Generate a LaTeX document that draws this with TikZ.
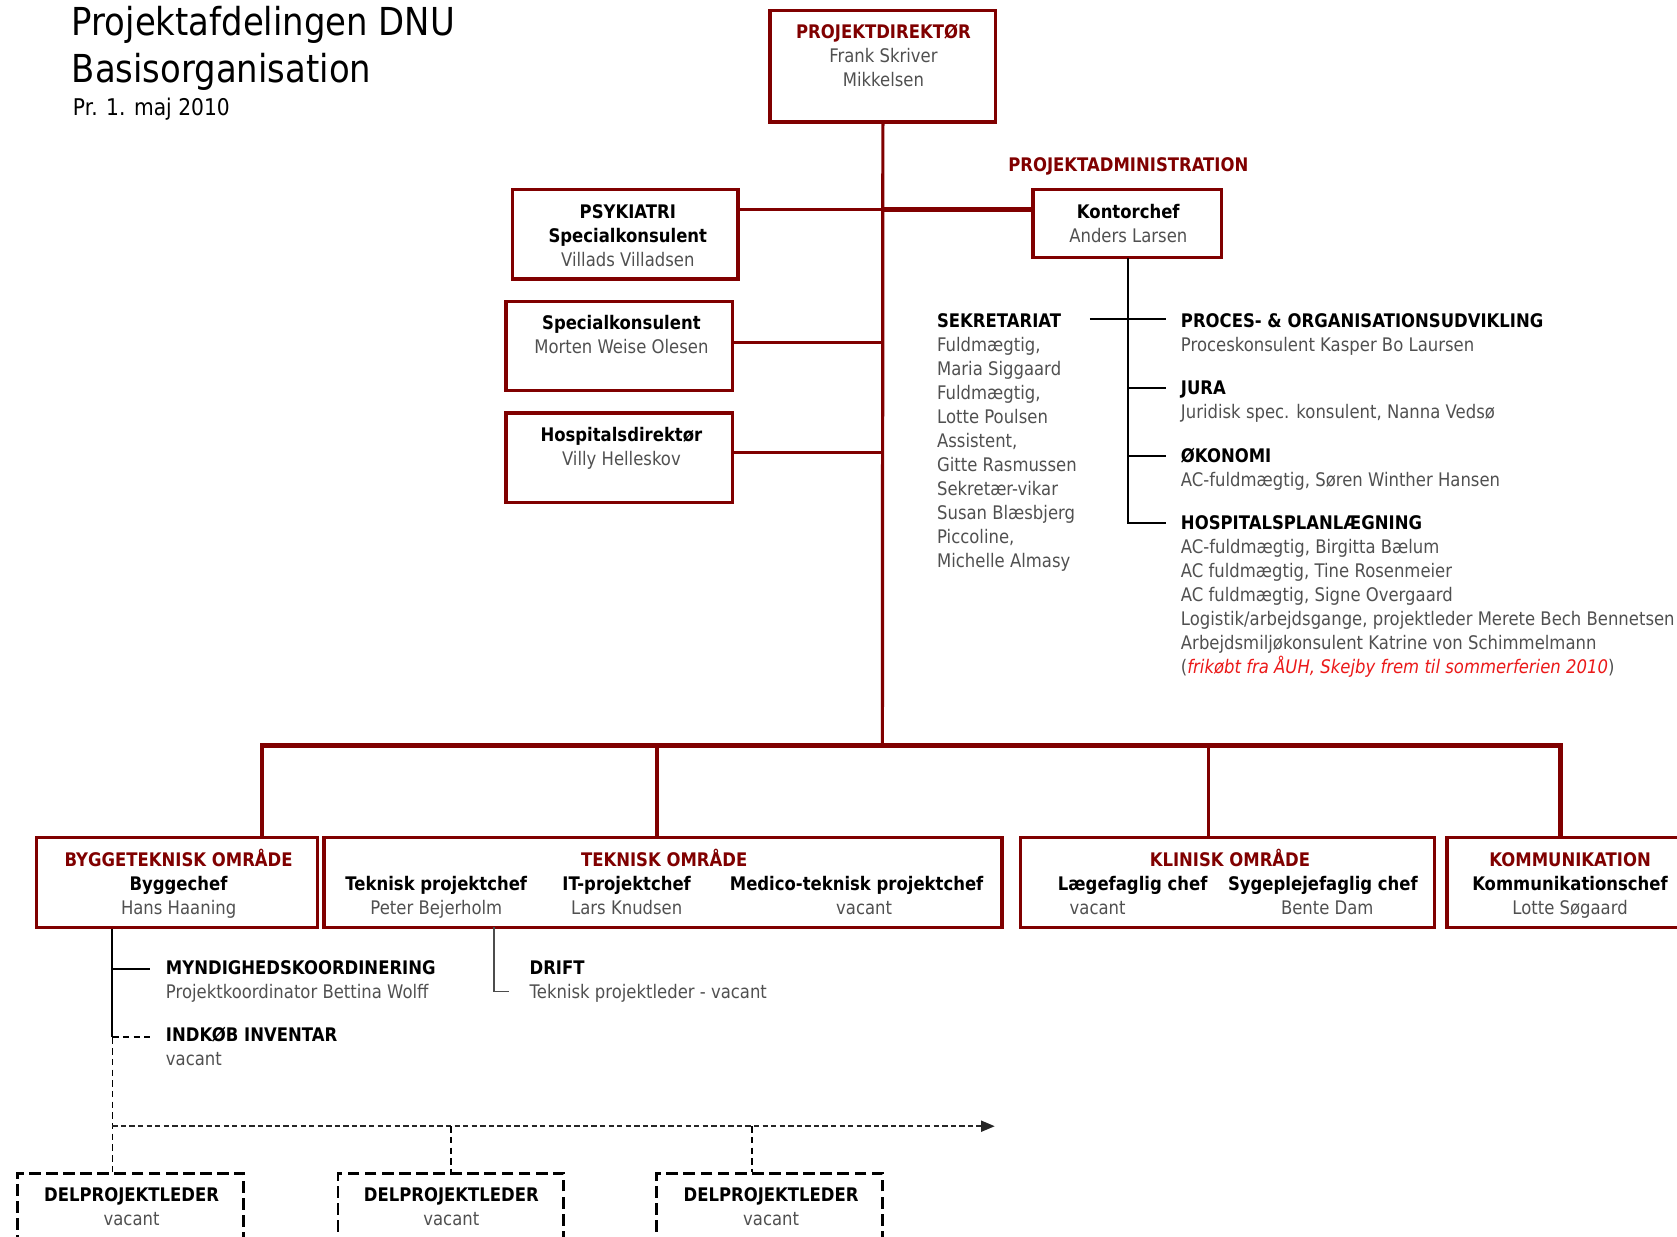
\documentclass[tikz,border=0pt]{standalone}
\usepackage{fontspec}
\setmainfont[FakeStretch=0.88]{DejaVu Sans}
\usetikzlibrary{arrows}
\definecolor{dred}{RGB}{128,0,0}
\definecolor{namegray}{RGB}{80,80,80}
\definecolor{notered}{RGB}{235,25,25}
\newcommand{\rd}[1]{\textcolor{dred}{\bfseries #1}}
\newcommand{\nm}[1]{\textcolor{namegray}{#1}}

\begin{document}
\begin{tikzpicture}[x=1pt,y=-1pt]
            \tikzset{box/.style = {draw=dred, line width=3.2pt, inner sep=0pt}}
            \tikzset{dbox/.style = {draw=black, line width=2.6pt, dash pattern=on 11pt off 5pt, inner sep=0pt}}
            \tikzset{txt/.style = {inner sep=0pt, anchor=base, align=center, yshift=-2pt, font=\fontsize{17.5}{22.5}\selectfont}}
            \tikzset{ltxt/.style = {txt, anchor=base west, align=left}}
            \tikzset{redline/.style = {draw=dred, line width=3pt}}
            \tikzset{blkline/.style = {draw=black, line width=1.8pt}}
            \tikzset{dline/.style = {draw=black, line width=1.4pt, dash pattern=on 6pt off 4pt}}
            \useasboundingbox (0,0) rectangle (1568,1156);
            % title
            \node[anchor=base west, inner sep=0pt, font=\fontsize{36}{44}\selectfont] (title) at (67,33) {Projektafdelingen DNU};
            \node[anchor=base west, inner sep=0pt, font=\fontsize{36}{44}\selectfont] (subtitle) at (67,77) {Basisorganisation};
            \node[anchor=base west, inner sep=0pt, font=\fontsize{21.5}{24}\selectfont] (date) at (68,108) {Pr. 1. maj 2010};
            % boxes
            \node[box, minimum width=211pt, minimum height=104pt] (dir) at (825.5,62) {};
            \node[box, minimum width=176pt, minimum height=64pt] (kon) at (1054,209) {};
            \node[box, minimum width=211pt, minimum height=84pt] (psy) at (584.5,219) {};
            \node[box, minimum width=212pt, minimum height=83pt] (spec) at (579,323.5) {};
            \node[box, minimum width=212pt, minimum height=84pt] (hosp) at (579,428) {};
            \node[box, minimum width=263pt, minimum height=84pt] (bygg) at (165.5,825) {};
            \node[box, minimum width=634pt, minimum height=84pt] (tek) at (620,825) {};
            \node[box, minimum width=387pt, minimum height=84pt] (klin) at (1147.5,825) {};
            \node[box, minimum width=240pt, minimum height=84pt] (komm) at (1473,825) {};
            \node[dbox, minimum width=212pt, minimum height=94pt] (del1) at (122,1144) {};
            \node[dbox, minimum width=211pt, minimum height=94pt] (del2) at (421.5,1144) {};
            \node[dbox, minimum width=211pt, minimum height=94pt] (del3) at (719.5,1144) {};
            % box texts (anchored at the last line)
            \node[txt] (dirtxt) at (826,79) {\rd{PROJEKTDIREKTØR}\\\nm{Frank Skriver}\\\nm{Mikkelsen}};
            \node[txt] (admin) at (1055,158) {\rd{PROJEKTADMINISTRATION}};
            \node[txt] (kontxt) at (1055,224.5) {\textbf{Kontorchef}\\\nm{Anders Larsen}};
            \node[txt] (psytxt) at (587,247) {\textbf{PSYKIATRI}\\\textbf{Specialkonsulent}\\\nm{Villads Villadsen}};
            \node[txt] (spectxt) at (581,328.5) {\textbf{Specialkonsulent}\\\nm{Morten Weise Olesen}};
            \node[txt] (hosptxt) at (581,433.5) {\textbf{Hospitalsdirektør}\\\nm{Villy Helleskov}};
            \node[txt] (byggtxt) at (167,853) {\rd{BYGGETEKNISK OMRÅDE}\\\textbf{Byggechef}\\\nm{Hans Haaning}};
            \node[txt] (tektxt) at (621,808) {\rd{TEKNISK OMRÅDE}};
            \node[txt] (tek1) at (408,853.5) {\textbf{Teknisk projektchef}\\\nm{Peter Bejerholm}};
            \node[txt] (tek2) at (586,853.5) {\textbf{IT-projektchef}\\\nm{Lars Knudsen}};
            \node[txt] (tek3) at (801,853.5) {\textbf{Medico-teknisk projektchef}\\\hspace*{14pt}\nm{vacant}};
            \node[txt] (klintxt) at (1150,808) {\rd{KLINISK OMRÅDE}};
            \node[txt, anchor=base west, align=left] (klin1) at (989,853.5) {\textbf{Lægefaglig chef}\\\hspace*{11pt}\nm{vacant}};
            \node[txt] (klin2) at (1237,853.5) {\textbf{Sygeplejefaglig chef}\\\hspace*{8pt}\nm{Bente Dam}};
            \node[txt] (kommtxt) at (1468,853) {\rd{KOMMUNIKATION}\\\textbf{Kommunikationschef}\\\nm{Lotte Søgaard}};
            \node[txt] (del1txt) at (123,1143.5) {\textbf{DELPROJEKTLEDER}\\\nm{vacant}};
            \node[txt] (del2txt) at (422,1143.5) {\textbf{DELPROJEKTLEDER}\\\nm{vacant}};
            \node[txt] (del3txt) at (721,1143.5) {\textbf{DELPROJEKTLEDER}\\\nm{vacant}};
            % staff texts
            \node[ltxt] (sek) at (876,529) {\textbf{SEKRETARIAT}\\\nm{Fuldmægtig,}\\\nm{Maria Siggaard}\\\nm{Fuldmægtig,}\\\nm{Lotte Poulsen}\\\nm{Assistent,}\\\nm{Gitte Rasmussen}\\\nm{Sekretær-vikar}\\\nm{Susan Blæsbjerg}\\\nm{Piccoline,}\\\nm{Michelle Almasy}};
            \node[ltxt] (proc) at (1104,326.5) {\textbf{PROCES- \& ORGANISATIONSUDVIKLING}\\\nm{Proceskonsulent Kasper Bo Laursen}};
            \node[ltxt] (jura) at (1104,389.5) {\textbf{JURA}\\\nm{Juridisk spec. konsulent, Nanna Vedsø}};
            \node[ltxt] (okon) at (1104,452.5) {\textbf{ØKONOMI}\\\nm{AC-fuldmægtig, Søren Winther Hansen}};
            \node[ltxt] (hplan) at (1104,628) {\textbf{HOSPITALSPLANLÆGNING}\\\nm{AC-fuldmægtig, Birgitta Bælum}\\\nm{AC fuldmægtig, Tine Rosenmeier}\\\nm{AC fuldmægtig, Signe Overgaard}\\\nm{Logistik/arbejdsgange, projektleder Merete Bech Bennetsen}\\\nm{Arbejdsmiljøkonsulent Katrine von Schimmelmann}\\\nm{(}\textcolor{notered}{\itshape frikøbt fra ÅUH, Skejby frem til sommerferien 2010}\nm{)}};
            \node[ltxt] (myn) at (155,931.5) {\textbf{MYNDIGHEDSKOORDINERING}\\\nm{Projektkoordinator Bettina Wolff}};
            \node[ltxt] (indk) at (155,994.5) {\textbf{INDKØB INVENTAR}\\\nm{vacant}};
            \node[ltxt] (drift) at (495,931.5) {\textbf{DRIFT}\\\nm{Teknisk projektleder - vacant}};
            % junctions
            \coordinate (jpsy) at (825,196);
            \coordinate (jspec) at (825,320);
            \coordinate (jhosp) at (825,423);
            \coordinate (jbus) at (825,697);
            \coordinate (busL) at (245,697);
            \coordinate (busR) at (1459,697);
            \coordinate (dtek) at (614,697);
            \coordinate (dklin) at (1130,697);
            \coordinate (bsek) at (1019,298);
            \coordinate (bproc) at (1090,298);
            \coordinate (bjura) at (1090,363);
            \coordinate (bokon) at (1090,426);
            \coordinate (bhosp) at (1090,489);
            \coordinate (kline) at (1055,241);
            \coordinate (bmyn) at (140,906);
            \coordinate (bind) at (140,970);
            \coordinate (dpl) at (105,1053);
            \coordinate (dpr) at (930,1053);
            \coordinate (ddel3) at (703,1053);
            \coordinate (ddrift) at (462,867);
            \coordinate (bdrift) at (476,927);
            % edges
            \draw[redline] (dir.south) -- (jbus);
            \draw[redline, line width=2.6pt] (psy.east |- jpsy) -- (jpsy);
            \draw[redline, line width=5pt] (jpsy) -- (kon.west |- jpsy);
            \draw[redline] (spec.east |- jspec) -- (jspec);
            \draw[redline] (hosp.east |- jhosp) -- (jhosp);
            \draw[redline, line width=4pt] (busL |- bygg.north) -- (busL) -- (busR) -- (busR |- komm.north);
            \draw[redline, line width=3.5pt] (dtek) -- (dtek |- tek.north);
            \draw[redline, line width=3.5pt] (dklin) -- (dklin |- klin.north);
            \draw[blkline] (kline) -- (kline |- bhosp) -- (bhosp);
            \draw[blkline] (bsek) -- (bproc);
            \draw[blkline] (kline |- bjura) -- (bjura);
            \draw[blkline] (kline |- bokon) -- (bokon);
            \draw[blkline, line width=1.5pt] (dpl |- bygg.south) -- (dpl |- bind);
            \draw[blkline] (dpl |- bmyn) -- (bmyn);
            \draw[dline, line width=1.8pt] (dpl |- bind) -- (bind);
            \draw[dline] (dpl |- bind) -- (dpl |- del1.north);
            \draw[draw=black!85, line width=2pt, dash pattern=on 5pt off 3pt, -triangle 45] (dpl) -- (dpr);
            \draw[dline] (del2.north |- dpl) -- (del2.north);
            \draw[dline] (ddel3) -- (ddel3 |- del3.north);
            \draw[draw=black!70, line width=1.4pt] (ddrift) -- (ddrift |- bdrift) -- (bdrift);
\end{tikzpicture}
\end{document}
